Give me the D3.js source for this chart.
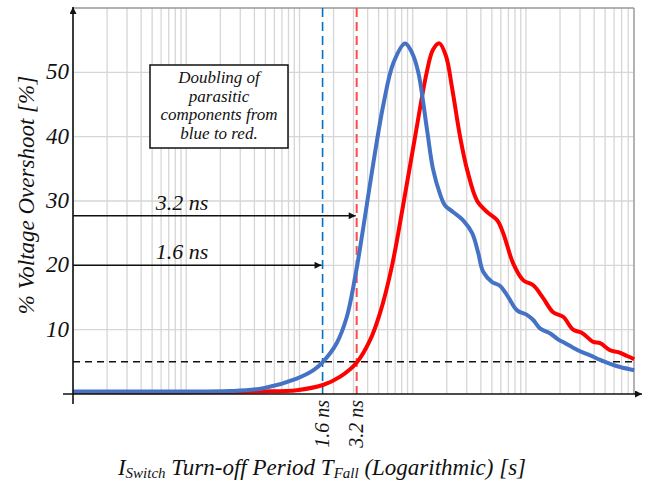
<!DOCTYPE html>
<html>
<head>
<meta charset="utf-8">
<script src="https://cdn.jsdelivr.net/npm/d3@7"></script>
</head>
<body style="margin:0">
<script>
// turn-off period in ns (log axis) and overshoot in %
var blueT = [0.01, 0.048, 0.244, 0.48, 0.946, 1.33, 1.61, 2.13, 2.62, 3.16, 3.67, 4.50, 5.51, 6.76, 8.57, 9.89, 11.2, 13.4, 15.1, 17.5, 19.3, 22.7, 27.9, 33.5, 37.8, 41.9, 50.3, 59.2, 69.6, 83.6, 102, 116, 133, 164, 192, 222, 261, 313, 369, 452, 554, 679, 904];
var blueV = [0.4, 0.4, 0.45, 0.9, 2.4, 3.7, 5, 7.9, 12, 19, 26, 36, 45, 51.5, 54.5, 53, 50, 41, 35, 31, 29.3, 28.3, 27, 25, 22, 19, 17.4, 16.8, 15.1, 13, 12.3, 11.5, 10.2, 9.4, 8.5, 7.9, 7.2, 6.5, 6.0, 5.3, 4.7, 4.2, 3.7];

var redT = [0.01, 0.244, 0.449, 0.946, 1.61, 2.29, 3.21, 4.21, 5.15, 6.54, 8.28, 10.5, 13.3, 15.1, 17.2, 19.7, 22.3, 26.2, 30.3, 37.1, 45.4, 55.7, 63.0, 77.1, 94.4, 116, 142, 174, 213, 261, 313, 393, 452, 554, 653, 783, 904];
var redV = [0.3, 0.3, 0.4, 0.6, 1.4, 2.7, 4.9, 8.4, 12.6, 19.8, 29.6, 40, 50, 53.5, 54.5, 52.5, 47.5, 40, 34.8, 30, 28.3, 27, 25, 20.3, 17.7, 16.9, 14.9, 12.7, 12, 10, 9.5, 8.1, 7.9, 6.8, 6.5, 5.9, 5.4];

var yTicks = [10, 20, 30, 40, 50];
var markT = [1.6, 3.2];            // ns
var markLabels = ["1.6 ns", "3.2 ns"];
var arrowLevel = [20, 27.7];       // % height of the arrows
var limitLevel = 5;                // dashed 5 % line
var noteLines = ["Doubling of", "parasitic", "components from", "blue to red."];

var width = 645, height = 485;
var margin = { top: 8, right: 11, bottom: 91, left: 73 };
var serifFamily = "Liberation Serif, Tinos, Times New Roman, Times, Noto Serif, DejaVu Serif, serif";

var svg = d3.select("body").append("svg").attr("width", width).attr("height", height);
svg.append("style").text("text, tspan { font-family: " + serifFamily + " !important; font-style: italic !important; }");

// all labels are italic serif
function label(sel) {
  return sel.attr("fill", "#111").attr("font-style", "italic").attr("font-family", serifFamily);
}

var x = d3.scaleLog().domain([0.01, 900]).range([margin.left, width - margin.right]);
var y = d3.scaleLinear().domain([0, 60]).range([height - margin.bottom, margin.top]);

var defs = svg.append("defs");
defs.append("marker").attr("id", "head")
  .attr("viewBox", "0 0 10 10").attr("refX", 10).attr("refY", 5)
  .attr("markerWidth", 9).attr("markerHeight", 7).attr("markerUnits", "userSpaceOnUse")
  .attr("orient", "auto")
  .append("path").attr("d", "M0,0L10,5L0,10z").attr("fill", "#111");

// grid: log minor lines
var gridT = [];
[0.01, 0.1, 1, 10, 100].forEach(function(d) {
  for (var k = 1; k <= 9; k++) gridT.push(d * k);
});
svg.append("g").selectAll("line").data(gridT).enter().append("line")
  .attr("x1", function(d) { return x(d); }).attr("x2", function(d) { return x(d); })
  .attr("y1", y(60)).attr("y2", y(0))
  .attr("stroke", "#d6d6d6").attr("stroke-width", 1.3);

svg.append("g").selectAll("line").data(yTicks.concat([60])).enter().append("line")
  .attr("x1", x(0.01)).attr("x2", x(900))
  .attr("y1", function(d) { return y(d); }).attr("y2", function(d) { return y(d); })
  .attr("stroke", function(d) { return d == 60 ? "#999" : "#d6d6d6"; })
  .attr("stroke-width", 1.3);
svg.append("line").attr("x1", x(900)).attr("x2", x(900)).attr("y1", y(60)).attr("y2", y(0))
  .attr("stroke", "#999").attr("stroke-width", 1.3);

// y tick labels
svg.append("g").selectAll("text").data(yTicks).enter().append("text")
  .attr("x", margin.left - 4).attr("y", function(d) { return y(d) + 7; })
  .attr("text-anchor", "end").attr("font-size", "23px")
  .call(label)
  .text(function(d) { return d; });

// dashed 5 % line
svg.append("line").attr("x1", x(0.01)).attr("x2", x(900))
  .attr("y1", y(limitLevel)).attr("y2", y(limitLevel))
  .attr("stroke", "#111").attr("stroke-width", 1.5).attr("stroke-dasharray", "7,5");

// vertical markers
var markColors = ["#0070C0", "#FF4B4B"];
svg.append("g").selectAll("line").data(markT).enter().append("line")
  .attr("x1", function(d) { return x(d); }).attr("x2", function(d) { return x(d); })
  .attr("y1", y(60)).attr("y2", y(0))
  .attr("stroke", function(d, i) { return markColors[i]; })
  .attr("stroke-width", function(d, i) { return i ? 2 : 1.6; })
  .attr("stroke-dasharray", "9,5");

svg.append("g").selectAll("text").data(markT).enter().append("text")
  .attr("transform", function(d) { return "translate(" + (x(d) + 6) + "," + (y(0) + 6) + ") rotate(-90)"; })
  .attr("text-anchor", "end").attr("font-size", "20px")
  .call(label)
  .text(function(d, i) { return markLabels[i]; });

// curves
var line = d3.line()
  .x(function(d) { return x(d[0]); })
  .y(function(d) { return y(d[1]); })
  .curve(d3.curveCatmullRom.alpha(0.5));

svg.append("path").datum(d3.zip(redT, redV))
  .attr("d", line).attr("fill", "none").attr("stroke", "#FF0000").attr("stroke-width", 4);
svg.append("path").datum(d3.zip(blueT, blueV))
  .attr("d", line).attr("fill", "none").attr("stroke", "#4472C4").attr("stroke-width", 4);

// arrows with labels
svg.append("g").selectAll("line").data(markT).enter().append("line")
  .attr("x1", x(0.01)).attr("x2", function(d) { return x(d) - 1; })
  .attr("y1", function(d, i) { return y(arrowLevel[i]); })
  .attr("y2", function(d, i) { return y(arrowLevel[i]); })
  .attr("stroke", "#111").attr("stroke-width", 1.5).attr("marker-end", "url(#head)");
svg.append("g").selectAll("text").data(markT).enter().append("text")
  .attr("x", 182).attr("y", function(d, i) { return y(arrowLevel[i]) - 6; })
  .attr("text-anchor", "middle").attr("font-size", "22px")
  .call(label)
  .text(function(d, i) { return markLabels[i]; });

// axes with arrows
svg.append("line").attr("x1", margin.left - 10).attr("x2", width - 3)
  .attr("y1", y(0)).attr("y2", y(0))
  .attr("stroke", "#111").attr("stroke-width", 1.6).attr("marker-end", "url(#head)");
svg.append("line").attr("x1", margin.left).attr("x2", margin.left)
  .attr("y1", y(0) + 10).attr("y2", y(60) - 1)
  .attr("stroke", "#111").attr("stroke-width", 1.6).attr("marker-end", "url(#head)");

// note box
var box = svg.append("g").attr("transform", "translate(150,65)");
box.append("rect").attr("width", 138).attr("height", 83)
  .attr("fill", "#fff").attr("stroke", "#111").attr("stroke-width", 1.5);
box.selectAll("text").data(noteLines).enter().append("text")
  .attr("x", 69).attr("y", function(d, i) { return 18 + i * 18.5; })
  .attr("text-anchor", "middle").attr("font-size", "17px")
  .call(label)
  .text(function(d) { return d; });

// axis titles
svg.append("text")
  .attr("transform", "translate(34," + 195 + ") rotate(-90)")
  .attr("text-anchor", "middle").attr("font-size", "23px")
  .call(label)
  .text("% Voltage Overshoot [%]");

var xt = svg.append("text").attr("x", 322).attr("y", 475)
  .attr("text-anchor", "middle").attr("font-size", "23px").call(label);
xt.append("tspan").text("I");
xt.append("tspan").attr("font-size", "15px").attr("dy", 3).text("Switch");
xt.append("tspan").attr("dy", -3).text(" Turn-off Period T");
xt.append("tspan").attr("font-size", "15px").attr("dy", 3).text("Fall");
xt.append("tspan").attr("dy", -3).text(" (Logarithmic) [s]");
</script>
</body>
</html>
